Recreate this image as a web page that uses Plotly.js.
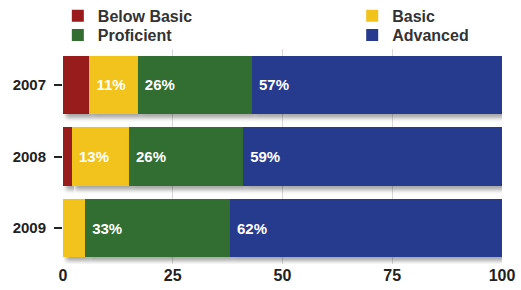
<!DOCTYPE html>
<html>
<head>
<meta charset="utf-8">
<script src="https://cdn.plot.ly/plotly-3.0.1.min.js"></script>
<style>
html,body{margin:0;padding:0;background:#fff;}
#chart{width:521px;height:290px;}
</style>
</head>
<body>
<div id="chart"></div>
<script>
const years = ['2007', '2008', '2009'];
const seriesNames = ['Below Basic', 'Basic', 'Proficient', 'Advanced'];
const belowBasic = [6, 2, 0];
const basic = [11, 13, 5];
const proficient = [26, 26, 33];
const advanced = [57, 59, 62];
const belowBasicLabels = ['', '', ''];
const basicLabels = ['11%', '13%', ''];
const proficientLabels = ['26%', '26%', '33%'];
const advancedLabels = ['57%', '59%', '62%'];
const xTicks = [0, 25, 50, 75, 100];

const colors = ['#991b1e', '#f1c31b', '#336d31', '#283a8e'];
const legendOf = ['legend', 'legend2', 'legend3', 'legend4'];
const values = [belowBasic, basic, proficient, advanced];
const labels = [belowBasicLabels, basicLabels, proficientLabels, advancedLabels];

const font = {family: 'Liberation Sans, Arial, sans-serif'};

const traces = seriesNames.map((name, i) => ({
  type: 'bar',
  orientation: 'h',
  name: name,
  legend: legendOf[i],
  y: years,
  x: values[i],
  text: labels[i].map(t => t ? ' ' + t : ''),
  textposition: 'inside',
  insidetextanchor: 'start',
  textangle: 0,
  constraintext: 'none',
  textfont: {family: font.family, size: 15, color: '#ffffff', weight: 'bold'},
  marker: {color: colors[i], line: {width: 0}},
  hoverinfo: 'none'
}));

const legendBase = {
  orientation: 'v',
  xref: 'container',
  yref: 'container',
  xanchor: 'left',
  yanchor: 'middle',
  traceorder: 'normal',
  font: {family: font.family, size: 16, color: '#333333', weight: 'bold'},
  itemclick: false,
  tracegroupgap: 0,
  bgcolor: 'rgba(0,0,0,0)'
};

const layout = {
  width: 521,
  height: 290,
  barmode: 'stack',
  bargap: 0.19,
  margin: {l: 63, r: 19, t: 49, b: 26, pad: 0, autoexpand: false},
  paper_bgcolor: '#ffffff',
  plot_bgcolor: '#ffffff',
  showlegend: true,
  legend: Object.assign({}, legendBase, {x: 0.111, y: 0.945}),
  legend2: Object.assign({}, legendBase, {x: 0.676, y: 0.945}),
  legend3: Object.assign({}, legendBase, {x: 0.111, y: 0.879}),
  legend4: Object.assign({}, legendBase, {x: 0.676, y: 0.879}),
  xaxis: {
    range: [0, 100],
    tickvals: xTicks,
    ticktext: xTicks.map(String),
    showgrid: true,
    gridcolor: '#d8d8d8',
    gridwidth: 1,
    zeroline: false,
    showline: false,
    ticks: '',
    tickfont: {family: font.family, size: 16, color: '#222222', weight: 'bold'},
    fixedrange: true
  },
  yaxis: {
    type: 'category',
    autorange: 'reversed',
    showgrid: false,
    zeroline: false,
    showline: false,
    ticks: 'outside',
    ticklen: 8,
    tickwidth: 2,
    tickcolor: '#222222',
    ticklabelstandoff: 5,
    tickfont: {family: font.family, size: 15, color: '#222222', weight: 'bold'},
    fixedrange: true
  }
};

Plotly.newPlot('chart', traces, layout, {displayModeBar: false, staticPlot: true}).then(gd => {
  // soft drop shadow under the bar segments, as in the reference
  const svg = gd.querySelector('svg.main-svg');
  const ns = 'http://www.w3.org/2000/svg';
  const defs = svg.querySelector('defs') || svg.insertBefore(document.createElementNS(ns, 'defs'), svg.firstChild);
  const f = document.createElementNS(ns, 'filter');
  f.setAttribute('id', 'barShadow');
  f.setAttribute('x', '-10%'); f.setAttribute('y', '-20%');
  f.setAttribute('width', '130%'); f.setAttribute('height', '150%');
  const ds = document.createElementNS(ns, 'feDropShadow');
  ds.setAttribute('dx', '3'); ds.setAttribute('dy', '4');
  ds.setAttribute('stdDeviation', '2');
  ds.setAttribute('flood-color', '#000'); ds.setAttribute('flood-opacity', '0.35');
  f.appendChild(ds); defs.appendChild(f);
  gd.querySelectorAll('.barlayer .point path').forEach(p => p.setAttribute('filter', 'url(#barShadow)'));
});
</script>
</body>
</html>
